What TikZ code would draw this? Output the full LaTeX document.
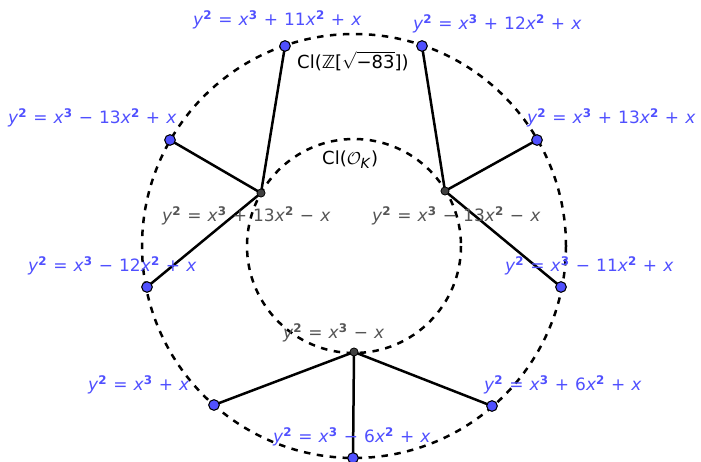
\documentclass[tikz,border=0pt]{standalone}
\usepackage{fontspec}
\setmainfont{DejaVu Sans}
\definecolor{ggblue}{RGB}{80,80,255}
\definecolor{gggray}{RGB}{85,85,85}
\definecolor{hubgray}{RGB}{64,64,64}
\newcommand{\vx}{\textit{x}}
\newcommand{\vy}{\textit{y}}
\newcommand{\pw}[1]{\textsuperscript{\textbf{#1}}}
\newcommand{\gp}{\hspace{0.36em}}
\newcommand{\mn}{−}
\begin{document}
\begin{tikzpicture}[x=1pt,y=-1pt,
  circ/.style={draw=black,line width=2.5pt,dash pattern=on 6.5pt off 6.5pt},
  edge/.style={draw=black,line width=2.5pt},
  leaf/.style={circle,draw=black,line width=0.9pt,fill=ggblue,inner sep=0pt,minimum size=10.5pt},
  hub/.style={circle,draw=black,line width=0.6pt,fill=hubgray,inner sep=0pt,minimum size=8pt},
  blab/.style={text=ggblue,inner sep=0pt,anchor=west,font=\fontsize{17}{19}\selectfont},
  glab/.style={text=gggray,inner sep=0pt,anchor=west,font=\fontsize{17}{19}\selectfont},
  klab/.style={text=black,inner sep=0pt,anchor=west,font=\fontsize{18}{20}\selectfont}]
\useasboundingbox (0,0) rectangle (701,462);
\draw[circ] (354,246) circle (212);
\draw[circ] (354,246) circle (107);
% hubs
\node[hub] (hA) at (261,193) {};
\node[hub] (hB) at (445,191) {};
\node[hub] (hC) at (354,352) {};
% leaves
\node[leaf] (l1) at (285,46) {};
\node[leaf] (l2) at (170,140) {};
\node[leaf] (l3) at (147,287) {};
\node[leaf] (l4) at (422,46) {};
\node[leaf] (l5) at (537,140) {};
\node[leaf] (l6) at (561,287) {};
\node[leaf] (l7) at (214,405) {};
\node[leaf] (l8) at (492,406) {};
\node[leaf] (l9) at (353,458) {};
\draw[edge] (hA.center) -- (l1.center) (hA.center) -- (l2.center) (hA.center) -- (l3.center);
\draw[edge] (hB.center) -- (l4.center) (hB.center) -- (l5.center) (hB.center) -- (l6.center);
\draw[edge] (hC.center) -- (l7.center) (hC.center) -- (l8.center) (hC.center) -- (l9.center);
% labels
\node[blab] (t1) at (193,20) {\vy\pw2\gp=\gp\vx\pw3\gp+\gp11\vx\pw2\gp+\gp\vx};
\node[blab] (t4) at (413,24) {\vy\pw2\gp=\gp\vx\pw3\gp+\gp12\vx\pw2\gp+\gp\vx};
\node[blab] (t2) at (8,118) {\vy\pw2\gp=\gp\vx\pw3\gp\mn\gp13\vx\pw2\gp+\gp\vx};
\node[blab] (t5) at (527,118) {\vy\pw2\gp=\gp\vx\pw3\gp+\gp13\vx\pw2\gp+\gp\vx};
\node[blab] (t3) at (28,266) {\vy\pw2\gp=\gp\vx\pw3\gp\mn\gp12\vx\pw2\gp+\gp\vx};
\node[blab] (t6) at (505,266) {\vy\pw2\gp=\gp\vx\pw3\gp\mn\gp11\vx\pw2\gp+\gp\vx};
\node[blab] (t7) at (88,385) {\vy\pw2\gp=\gp\vx\pw3\gp+\gp\vx};
\node[blab] (t8) at (484,385) {\vy\pw2\gp=\gp\vx\pw3\gp+\gp6\vx\pw2\gp+\gp\vx};
\node[blab] (t9) at (273,437) {\vy\pw2\gp=\gp\vx\pw3\gp\mn\gp6\vx\pw2\gp+\gp\vx};
\node[glab] (gA) at (162,216) {\vy\pw2\gp=\gp\vx\pw3\gp+\gp13\vx\pw2\gp\mn\gp\vx};
\node[glab] (gB) at (372,216) {\vy\pw2\gp=\gp\vx\pw3\gp\mn\gp13\vx\pw2\gp\mn\gp\vx};
\node[glab] (gC) at (283,333) {\vy\pw2\gp=\gp\vx\pw3\gp\mn\gp\vx};
\node[klab] (k1) at (297,61) {Cl(ℤ[$\sqrt{\mbox{\mn83}}$])};
\node[klab] (k2) at (322,160) {Cl($\mathcal{O}_{\mbox{\fontsize{14}{16}\selectfont\textit{K}}}$)};
% redraw points on top
\node[hub] at (hA) {};
\node[hub] at (hB) {};
\node[hub] at (hC) {};
\foreach \p in {l1,l2,l3,l4,l5,l6,l7,l8,l9} \node[leaf] at (\p) {};
\end{tikzpicture}
\end{document}
